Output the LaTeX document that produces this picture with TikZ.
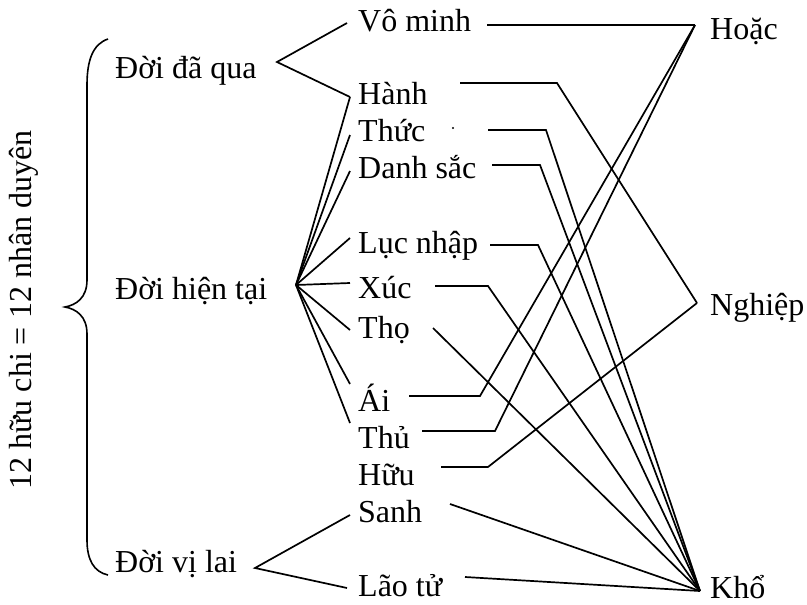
\documentclass[tikz,border=0pt]{standalone}
\usepackage{fontspec}
\setmainfont{Liberation Serif}
\begin{document}
\begin{tikzpicture}[x=1pt,y=-1pt,
  lbl/.style={anchor=base west,inner sep=0pt,font=\fontsize{32}{38}\selectfont},
  conn/.style={line width=1.7pt,line join=miter}]
\useasboundingbox (0,0) rectangle (807,605);
% vertical title
\node[rotate=90,anchor=base,inner sep=0pt,font=\fontsize{32}{38}\selectfont] (title) at (31,310) {12 hữu chi = 12 nhân duyên};
% brace
\draw[line width=1.6pt] (108,39) .. controls (93,44) and (87,60) .. (87,85) -- (87,280)
  .. controls (87,298) and (76,305) .. (65,307)
  .. controls (76,309) and (87,316) .. (87,334) -- (87,540)
  .. controls (87,560) and (94,572) .. (108,575);
% left column
\node[lbl] (daqua) at (115,78) {Đời đã qua};
\node[lbl] (hientai) at (115,299) {Đời hiện tại};
\node[lbl] (vilai) at (115,572) {Đời vị lai};
% middle column
\node[lbl] (vominh) at (358,31) {Vô minh};
\node[lbl] (hanh) at (358,104) {Hành};
\node[lbl] (thuc) at (358,141) {Thức};
\node[lbl] (danhsac) at (358,178) {Danh sắc};
\node[lbl] (lucnhap) at (358,253) {Lục nhập};
\node[lbl] (xuc) at (358,298) {Xúc};
\node[lbl] (tho) at (358,338) {Thọ};
\node[lbl] (ai) at (358,411) {Ái};
\node[lbl] (thu) at (358,448) {Thủ};
\node[lbl] (huu) at (358,485) {Hữu};
\node[lbl] (sanh) at (358,522) {Sanh};
\node[lbl] (laotu) at (358,596) {Lão tử};
% right column
\node[lbl] (hoac) at (710,39) {Hoặc};
\node[lbl] (nghiep) at (710,315) {Nghiệp};
\node[lbl] (kho) at (710,598) {Khổ};
% hubs
\coordinate (dqv) at (277,62);
\coordinate (htv) at (296,285);
\coordinate (vlv) at (255,568);
\coordinate (H) at (695,25);
\coordinate (N) at (697,303);
\coordinate (K) at (700,591);
% left ends of middle items
\coordinate (vominhL) at (347,23);
\coordinate (hanhL) at (350,97);
\coordinate (thucL) at (350,135);
\coordinate (danhsacL) at (350,171);
\coordinate (lucnhapL) at (350,238);
\coordinate (xucL) at (350,283);
\coordinate (thoL) at (350,330);
\coordinate (aiL) at (350,384);
\coordinate (thuL) at (350,423);
\coordinate (sanhL) at (350,515);
\coordinate (laotuL) at (347,588);
% right ends and kinks
\coordinate (vominhR) at (487,25);
\coordinate (hanhR) at (460,83);   \coordinate (hanhK) at (557,83);
\coordinate (thucR) at (488,130);  \coordinate (thucK) at (546,130);
\coordinate (danhsacR) at (492,165); \coordinate (danhsacK) at (540,165);
\coordinate (lucnhapR) at (490,245); \coordinate (lucnhapK) at (538,245);
\coordinate (xucR) at (435,286);   \coordinate (xucK) at (488,286);
\coordinate (thoR) at (433,328);
\coordinate (aiR) at (409,396);    \coordinate (aiK) at (480,396);
\coordinate (thuR) at (422,431);   \coordinate (thuK) at (495,431);
\coordinate (huuR) at (441,467);   \coordinate (huuK) at (488,467);
\coordinate (sanhR) at (450,504);
\coordinate (laotuR) at (465,577);
% branches from the three lives
\draw[conn] (vominhL) -- (dqv) -- (hanhL);
\foreach \t in {hanhL,thucL,danhsacL,lucnhapL,xucL,thoL,aiL,thuL}
  \draw[conn] (htv) -- (\t);
\draw[conn] (sanhL) -- (vlv) -- (laotuL);
% connectors to Hoặc / Nghiệp / Khổ
\draw[conn] (vominhR) -- (H);
\draw[conn] (hanhR) -- (hanhK) -- (N);
\draw[conn] (thucR) -- (thucK) -- (K);
\draw[conn] (danhsacR) -- (danhsacK) -- (K);
\draw[conn] (lucnhapR) -- (lucnhapK) -- (K);
\draw[conn] (xucR) -- (xucK) -- (K);
\draw[conn] (thoR) -- (K);
\draw[conn] (aiR) -- (aiK) -- (H);
\draw[conn] (thuR) -- (thuK) -- (H);
\draw[conn] (huuR) -- (huuK) -- (N);
\draw[conn] (sanhR) -- (K);
\draw[conn] (laotuR) -- (K);
% stray dot
\fill (453,128) circle (1.1pt);
\end{tikzpicture}
\end{document}
